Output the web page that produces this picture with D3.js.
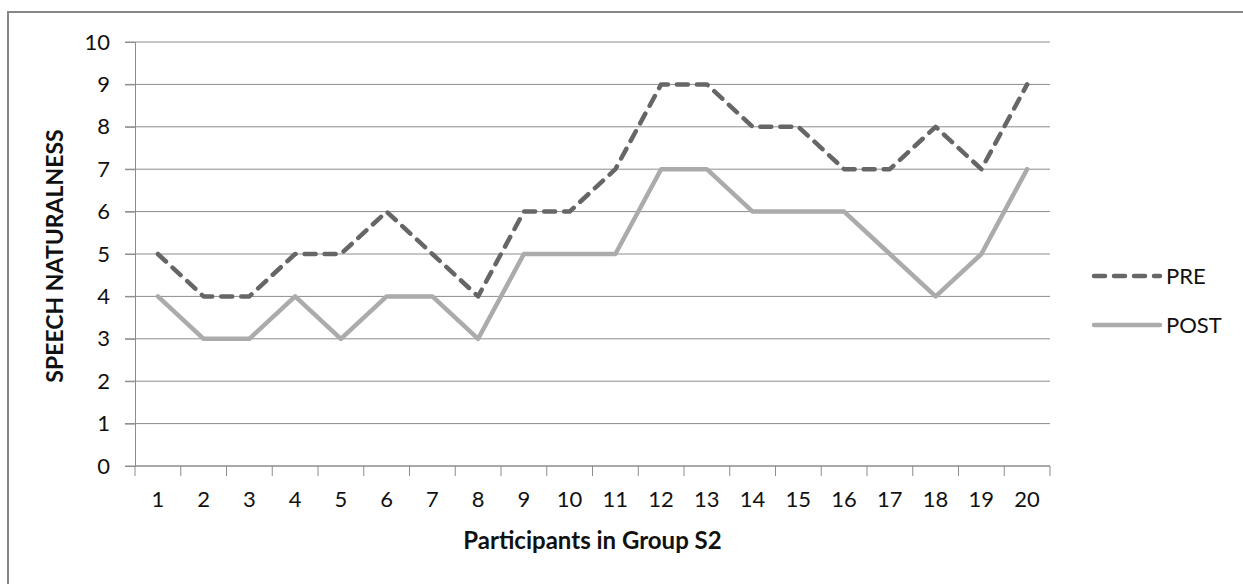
<!DOCTYPE html>
<html>
<head>
<meta charset="utf-8">
<script src="https://cdn.jsdelivr.net/npm/d3@7"></script>
<style>
  html, body { margin: 0; padding: 0; background: #fff; }
  svg { display: block; font-family: Lato, "Open Sans", sans-serif; }
</style>
</head>
<body>
<svg id="chart" width="1243" height="584"></svg>
<script>
// Speech naturalness scores before and after, per participant
const participants = d3.range(1, 21).map(String);
const preScores  = [5, 4, 4, 5, 5, 6, 5, 4, 6, 6, 7, 9, 9, 8, 8, 7, 7, 8, 7, 9];
const postScores = [4, 3, 3, 4, 3, 4, 4, 3, 5, 5, 5, 7, 7, 6, 6, 6, 5, 4, 5, 7];
const yTicks = d3.range(0, 11);
const seriesNames = ["PRE", "POST"];

const svg = d3.select("#chart");
const FONT = "Lato, 'Open Sans', sans-serif";

// outer frame
svg.append("rect")
  .attr("x", 8).attr("y", 12)
  .attr("width", 1250).attr("height", 600)
  .attr("fill", "#fff").attr("stroke", "#878787").attr("stroke-width", 2);

const plotLeft = 135, plotRight = 1050, plotTop = 42, plotBottom = 466;

const x = d3.scaleBand().domain(participants).range([plotLeft, plotRight]);
const y = d3.scaleLinear().domain([0, 10]).range([plotBottom, plotTop]);

// horizontal gridlines with short tick stubs on the left
svg.append("g")
  .selectAll("line")
  .data(yTicks)
  .join("line")
  .attr("x1", plotLeft - 10).attr("x2", plotRight)
  .attr("y1", d => y(d)).attr("y2", d => y(d))
  .attr("stroke", "#8c8c8c").attr("stroke-width", 1);

// y axis
const yAxis = svg.append("g")
  .attr("transform", `translate(${plotLeft},0)`)
  .call(d3.axisLeft(y).tickValues(yTicks).tickSize(10).tickPadding(15));
yAxis.attr("font-size", 22).attr("font-family", FONT);
yAxis.select(".domain").attr("stroke", "#8c8c8c");
yAxis.selectAll(".tick line").attr("stroke", "#8c8c8c");
yAxis.selectAll("text").attr("fill", "#111");

// x axis with ticks on band boundaries
const xAxisG = svg.append("g").attr("transform", `translate(0,${plotBottom})`);
xAxisG.append("line")
  .attr("x1", plotLeft).attr("x2", plotRight)
  .attr("stroke", "#8c8c8c");
const boundaries = participants.map(d => x(d)).concat([x.range()[1]]);
xAxisG.selectAll("line.tk")
  .data(boundaries)
  .join("line")
  .attr("class", "tk")
  .attr("x1", d => d).attr("x2", d => d)
  .attr("y1", 0).attr("y2", 10)
  .attr("stroke", "#8c8c8c");
xAxisG.selectAll("text")
  .data(participants)
  .join("text")
  .attr("x", d => x(d) + x.bandwidth() / 2)
  .attr("y", 41)
  .attr("text-anchor", "middle")
  .attr("font-size", 22)
  .attr("fill", "#111")
  .text(d => d);

// axis titles
svg.append("text")
  .attr("x", (plotLeft + plotRight) / 2).attr("y", 549)
  .attr("text-anchor", "middle")
  .attr("font-size", 24).attr("font-weight", "bold")
  .attr("fill", "#111")
  .text("Participants in Group S2");

svg.append("text")
  .attr("transform", `translate(63,${(plotTop + plotBottom) / 2 + 2}) rotate(-90)`)
  .attr("text-anchor", "middle")
  .attr("font-size", 23).attr("font-weight", "bold")
  .attr("fill", "#111")
  .text("SPEECH NATURALNESS");

// series lines
const line = d3.line()
  .x((d, i) => x(participants[i]) + x.bandwidth() / 2)
  .y(d => y(d));

const styles = {
  PRE:  { stroke: "#666666", dash: "11,9", data: preScores },
  POST: { stroke: "#ababab", dash: null, data: postScores }
};

seriesNames.slice().reverse().forEach(name => {
  const s = styles[name];
  svg.append("path")
    .datum(s.data)
    .attr("d", line)
    .attr("fill", "none")
    .attr("stroke", s.stroke)
    .attr("stroke-width", 4.5)
    .attr("stroke-linejoin", "round")
    .attr("stroke-linecap", "round")
    .attr("stroke-dasharray", s.dash);
});

// legend
const legend = svg.append("g");
seriesNames.forEach((name, i) => {
  const s = styles[name];
  const ly = 276 + i * 49;
  legend.append("line")
    .attr("x1", 1094).attr("x2", 1160)
    .attr("y1", ly).attr("y2", ly)
    .attr("stroke", s.stroke).attr("stroke-width", 4.5)
    .attr("stroke-linecap", "round")
    .attr("stroke-dasharray", s.dash);
  legend.append("text")
    .attr("x", 1166).attr("y", ly + 8)
    .attr("font-size", 22)
    .attr("fill", "#111")
    .text(name);
});
</script>
</body>
</html>
